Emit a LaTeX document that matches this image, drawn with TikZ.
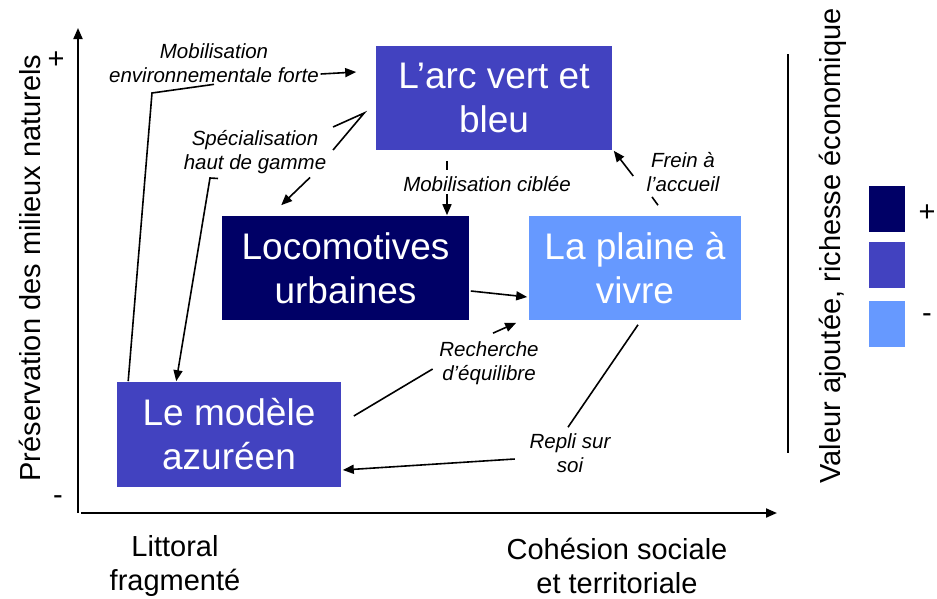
\documentclass[tikz,border=0pt]{standalone}
\usepackage{fontspec}
\setmainfont{Liberation Sans}
\usetikzlibrary{arrows.meta}
\definecolor{navyblue}{HTML}{000066}
\definecolor{midblue}{HTML}{4242C0}
\definecolor{skyblue}{HTML}{6699FF}
\tikzset{
  scenario/.style={text=white, minimum height=104pt, inner sep=0pt, align=center, font=\fontsize{37}{44}\selectfont},
  flowlabel/.style={inner sep=1pt, align=center, font=\itshape\fontsize{20.5}{24}\selectfont},
  axislabel/.style={inner sep=0pt, align=center, font=\fontsize{29}{34}\selectfont},
  keybox/.style={fill=#1, minimum width=36pt, minimum height=46pt, inner sep=0pt},
}
\begin{document}
\begin{tikzpicture}[x=1pt, y=-1pt, line width=1.6pt, >={Triangle[length=11pt,width=9pt]}]
  \useasboundingbox (0,0) rectangle (937,598);
  % axes
  \coordinate (origin) at (78,513);
  \coordinate (ytop) at (78,28);
  \coordinate (xend) at (777,513);
  \draw[line width=2pt,->] (origin) -- (ytop);
  \draw[line width=2pt,->] ([xshift=3pt]origin) -- (xend);
  \node[axislabel] (yplus) at (56,60) {+};
  \node[axislabel] (yminus) at (58,500) {-};
  \node[axislabel, rotate=90] (ylab) at (30,268) {Préservation des milieux naturels};
  \node[axislabel] (xleft) at (175,566) {Littoral\\fragmenté};
  \node[axislabel] (xright) at (617,566) {Cohésion sociale\\et territoriale};
  % value scale
  \draw[line width=2.5pt] (788,54) -- (788,453);
  \node[axislabel, rotate=90] (vlab) at (833,246) {Valeur ajoutée, richesse économique};
  \node[keybox=navyblue] (khigh) at (887,209) {};
  \node[keybox=midblue] (kmid) at (887,265) {};
  \node[keybox=skyblue] (klow) at (887,324) {};
  \node[axislabel] (kplus) at (927,213) {+};
  \node[axislabel] (kminus) at (927,318) {-};
  % scenarios
  \node[scenario, fill=midblue, minimum width=236pt] (arc) at (494,98) {L’arc vert et\\bleu};
  \node[scenario, fill=navyblue, minimum width=247pt] (loco) at (345.5,268) {Locomotives\\urbaines};
  \node[scenario, fill=skyblue, minimum width=212pt] (plaine) at (635,268) {La plaine à\\vivre};
  \node[scenario, fill=midblue, minimum width=224pt, minimum height=105pt] (modele) at (229,434.5) {Le modèle\\azuréen};
  % dynamics
  \node[flowlabel] (mobenv) at (214,63) {Mobilisation\\environnementale forte};
  \node[flowlabel] (special) at (255,152) {Spécialisation\\haut de gamme};
  \node[flowlabel] (mobcib) at (487,184) {Mobilisation ciblée};
  \node[flowlabel] (frein) at (683,172) {Frein à\\l’accueil};
  \node[flowlabel] (recherche) at (489,363) {Recherche\\d’équilibre};
  \node[flowlabel] (repli) at (570,453) {Repli sur\\soi};
  \draw ([shift={(12,0)}]modele.north west) -- (152,93) -- (mobenv.south);
  \draw[->] ([shift={(0,11)}]mobenv.east) -- ([shift={(-19,-26)}]arc.west);
  \draw ([shift={(5,-25)}]special.east) -- ([shift={(-11,15)}]arc.west) -- ([shift={(5,-2)}]special.east);
  \draw[->] ([shift={(55,2)}]special.south) -- ([shift={(60,-10)}]loco.north west);
  \draw[->] ([shift={(-37,3)}]special.south) -- (210,178) -- ([shift={(60,0)}]modele.north west);
  \draw ([shift={(-47,10)}]arc.south) -- ([shift={(-40,-5)}]mobcib.north);
  \draw[->] ([shift={(-40,1)}]mobcib.south) -- ([shift={(101.5,0)}]loco.north);
  \draw[->] ([shift={(1,23)}]loco.east) -- ([shift={(-1,29)}]plaine.west);
  \draw ([shift={(23,-10)}]plaine.north) -- ([shift={(-31,3.5)}]frein.south);
  \draw[->] ([shift={(-11.5,4)}]frein.west) -- ([shift={(1,0)}]arc.south east);
  \draw ([shift={(12,-18.5)}]modele.east) -- ([shift={(-5,6)}]recherche.west);
  \draw[->] ([shift={(4,-6.5)}]recherche.north) -- ([shift={(-12,2)}]plaine.south west);
  \draw ([shift={(3,4)}]plaine.south) -- ([shift={(-2,-4.5)}]repli.north);
  \draw[->] ([shift={(-13,6)}]repli.west) -- ([shift={(1,35.5)}]modele.east);
\end{tikzpicture}
\end{document}
